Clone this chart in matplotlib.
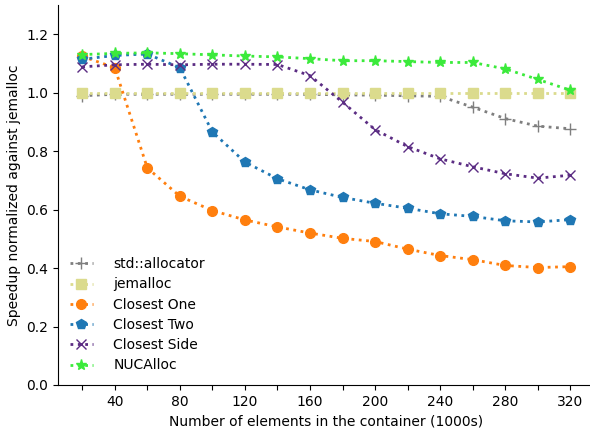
import numpy as np
import matplotlib
matplotlib.use("Agg")
import matplotlib.pyplot as plt

x = [20, 40, 60, 80, 100, 120, 140, 160, 180, 200, 220, 240, 260, 280, 300, 320]

std_alloc = [0.99, 0.995, 0.995, 0.995, 0.995, 0.995, 0.995, 0.995, 0.993, 0.992, 0.99, 0.988, 0.951, 0.912, 0.886, 0.877]
jemalloc = [1.0] * 16
closest_one = [1.125, 1.086, 0.743, 0.646, 0.597, 0.565, 0.541, 0.520, 0.502, 0.491, 0.465, 0.443, 0.429, 0.409, 0.402, 0.405]
closest_two = [1.115, 1.128, 1.133, 1.086, 0.866, 0.763, 0.706, 0.668, 0.642, 0.622, 0.605, 0.586, 0.577, 0.562, 0.558, 0.566]
closest_side = [1.089, 1.096, 1.098, 1.096, 1.098, 1.098, 1.097, 1.059, 0.968, 0.874, 0.816, 0.774, 0.747, 0.723, 0.708, 0.718]
nucalloc = [1.131, 1.135, 1.137, 1.134, 1.130, 1.126, 1.123, 1.117, 1.110, 1.110, 1.107, 1.104, 1.104, 1.082, 1.046, 1.009]

series = [
    ("std::allocator", std_alloc, "#7f7f7f", "+", 8),
    ("jemalloc", jemalloc, "#dbdb8d", "s", 7),
    ("Closest One", closest_one, "#ff7f0e", "o", 7),
    ("Closest Two", closest_two, "#1f77b4", "p", 7),
    ("Closest Side", closest_side, "#5b2c83", "x", 7),
    ("NUCAlloc", nucalloc, "#3bea3b", "*", 8),
]

fig, ax = plt.subplots(figsize=(5.9, 4.34), dpi=100)
for label, vals, col, mk, ms in series:
    ax.plot(x, vals, linestyle=":", linewidth=2, color=col, marker=mk,
            markersize=ms, label=label)

ax.set_xticks([40, 80, 120, 160, 200, 240, 280, 320])
ax.set_xticks([20, 60, 100, 140, 180, 220, 260, 300], minor=True)
ax.tick_params(axis="x", which="minor", length=3.5, width=0.8)
ax.set_ylim(0, 1.3)
ax.set_yticks([0.0, 0.2, 0.4, 0.6, 0.8, 1.0, 1.2])
ax.set_xlabel("Number of elements in the container (1000s)")
ax.set_ylabel("Speedup normalized against jemalloc")
ax.spines["top"].set_visible(False)
ax.spines["right"].set_visible(False)
ax.legend(loc="lower left", frameon=False, handlelength=1.6,
          handletextpad=1.5, labelspacing=0.45)
fig.subplots_adjust(left=0.098, right=1.008, top=0.988, bottom=0.113)
fig.savefig("out.png")
